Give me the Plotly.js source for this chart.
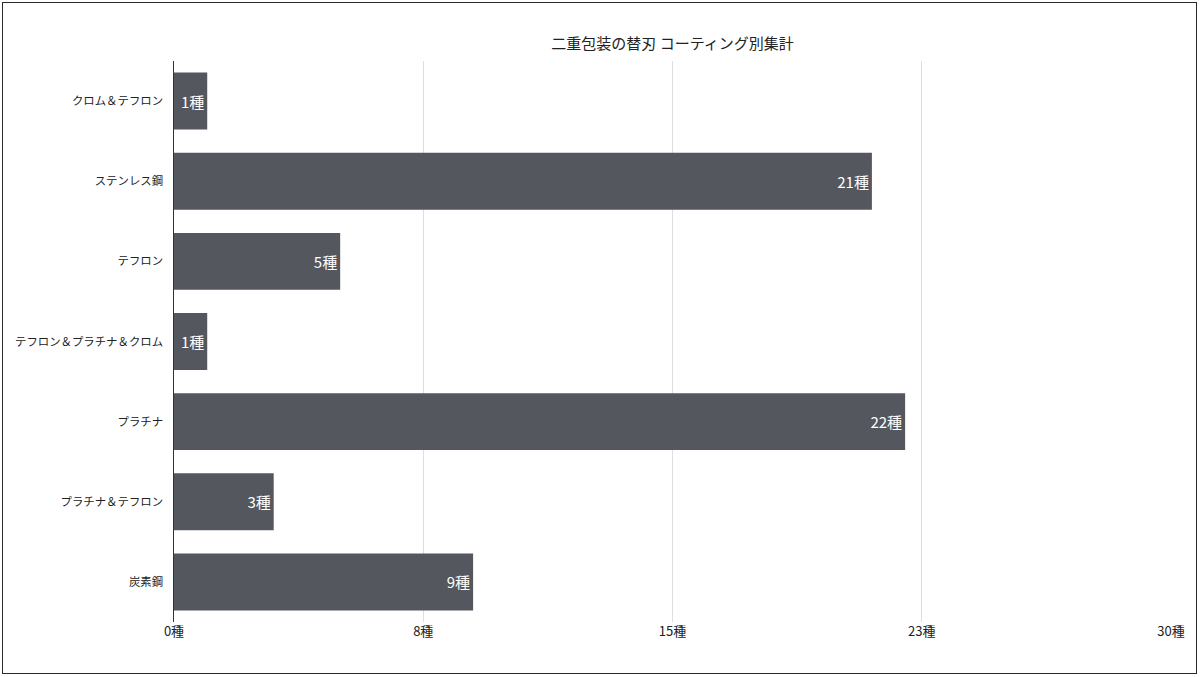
<!DOCTYPE html>
<html><head><meta charset="utf-8">
<script src="https://cdn.plot.ly/plotly-3.0.1.min.js"></script>
<style>
html,body{margin:0;padding:0;background:#fff;}
#chart{width:1200px;height:677px;}
#frame{position:absolute;left:2px;top:2px;width:1193px;height:670px;border:1.5px solid #2a2a2a;pointer-events:none;}
</style></head>
<body>
<div id="chart"></div>
<div id="frame"></div>
<script>
const categories = ["クロム＆テフロン","ステンレス鋼","テフロン","テフロン＆プラチナ＆クロム","プラチナ","プラチナ＆テフロン","炭素鋼"];
const counts = [1,21,5,1,22,3,9];
const tickValues = [0,7.5,15,22.5,30];
const tickLabels = ["0種","8種","15種","23種","30種"];
const font = "Noto Sans CJK JP, Noto Sans, sans-serif";

Plotly.newPlot("chart",[{
  type:"bar", orientation:"h",
  x:counts, y:categories,
  marker:{color:"#54575e"},
  width:0.71,
  texttemplate:"%{x}種",
  textposition:"inside",
  insidetextanchor:"end",
  constraintext:"none",
  textfont:{color:"#ffffff",size:15,family:font},
  hoverinfo:"none"
}],{
  width:1200,height:677,
  margin:{l:174,r:29,t:61,b:55},
  paper_bgcolor:"#ffffff",plot_bgcolor:"#ffffff",
  font:{family:font,color:"#222"},
  title:{text:"二重包装の替刃 コーティング別集計",font:{size:15,color:"#222",family:font},x:0.5605,xanchor:"center",y:0.936,yanchor:"middle"},
  showlegend:false,
  xaxis:{range:[0,30],tickvals:tickValues,ticktext:tickLabels,showgrid:true,gridcolor:"#dedede",gridwidth:1,
    zeroline:false,showline:false,ticks:"",tickfont:{size:13,color:"#222"},fixedrange:true},
  yaxis:{autorange:"reversed",showline:true,linecolor:"#333",linewidth:1,ticks:"",ticklen:0,
    tickfont:{size:11.4,color:"#222"},showgrid:false,ticksuffix:"   ",fixedrange:true}
},{displayModeBar:false,staticPlot:true});
</script>
</body></html>
